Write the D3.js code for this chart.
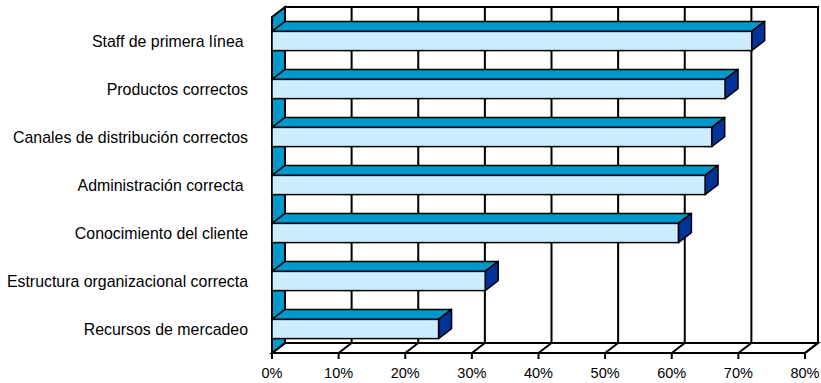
<!DOCTYPE html>
<html><head><meta charset="utf-8">
<script src="https://cdn.jsdelivr.net/npm/d3@7/dist/d3.min.js"></script>
<style>body{margin:0;background:#fff}svg{display:block}</style>
</head><body>
<svg id="c" width="821" height="383"></svg>
<script>
const categories = ["Staff de primera línea ","Productos correctos","Canales de distribución correctos","Administración correcta ","Conocimiento del cliente","Estructura organizacional correcta","Recursos de mercadeo"];
const values = [72,68,66,65,61,32,25];
const ticks = [0,10,20,30,40,50,60,70,80];
const tickLabels = ticks.map(t=>t+"%");

const svg = d3.select("#c");
const dx = 13, dy = 10;
const x = d3.scaleLinear().domain([0,80]).range([272,805]);
const yTop = 17, yBot = 353;
const y = d3.scaleBand().domain(categories).range([yTop,yBot]).paddingInner(0.6).paddingOuter(0.3);
const yCat = d3.scaleBand().domain(categories).range([yTop,yBot]);

const teal="#0099CC", light="#CCECFF", dark="#003399";
const sw=2;

// back wall
svg.append("rect").attr("x",x(0)+dx).attr("y",yTop-dy).attr("width",x(80)-x(0)).attr("height",yBot-yTop)
  .attr("fill","#fff").attr("stroke","#000").attr("stroke-width",sw);
// gridlines on back wall
svg.selectAll(".grid").data(ticks.slice(1,-1)).join("line")
  .attr("x1",d=>x(d)+dx).attr("x2",d=>x(d)+dx).attr("y1",yTop-dy).attr("y2",yBot-dy)
  .attr("stroke","#000").attr("stroke-width",sw);
// floor
const poly = pts => pts.map(p=>p.join(",")).join(" ");
svg.append("polygon").attr("points",poly([[x(0),yBot],[x(0)+dx,yBot-dy],[x(80)+dx,yBot-dy],[x(80),yBot]]))
  .attr("fill","#fff").attr("stroke","#000").attr("stroke-width",sw).attr("stroke-linejoin","miter");
svg.selectAll(".fl").data(ticks).join("line")
  .attr("x1",d=>x(d)).attr("y1",yBot).attr("x2",d=>x(d)+dx).attr("y2",yBot-dy)
  .attr("stroke","#000").attr("stroke-width",sw);
svg.selectAll(".tk").data(ticks).join("line")
  .attr("x1",d=>x(d)).attr("y1",yBot).attr("x2",d=>x(d)).attr("y2",yBot+6)
  .attr("stroke","#000").attr("stroke-width",sw);
// left wall
svg.append("polygon").attr("points",poly([[x(0),yTop],[x(0)+dx,yTop-dy],[x(0)+dx,yBot-dy],[x(0),yBot]]))
  .attr("fill",teal).attr("stroke","#000").attr("stroke-width",sw);

// bars
const g = svg.selectAll(".bar").data(categories).join("g");
g.append("polygon").attr("points",(d,i)=>{const y0=y(d),x1=x(values[i]);return poly([[x(0),y0],[x(0)+dx,y0-dy],[x1+dx,y0-dy],[x1,y0]]);})
  .attr("fill",teal).attr("stroke","#000").attr("stroke-width",1.5).attr("stroke-linejoin","round");
g.append("polygon").attr("points",(d,i)=>{const y0=y(d),y1=y0+y.bandwidth(),x1=x(values[i]);return poly([[x1,y0],[x1+dx,y0-dy],[x1+dx,y1-dy],[x1,y1]]);})
  .attr("fill",dark).attr("stroke","#000").attr("stroke-width",1.5).attr("stroke-linejoin","round");
g.append("rect").attr("x",x(0)).attr("y",d=>y(d)).attr("width",(d,i)=>x(values[i])-x(0)).attr("height",y.bandwidth())
  .attr("fill",light).attr("stroke","#000").attr("stroke-width",1.5);

// category labels
svg.selectAll(".cl").data(categories).join("text")
  .attr("x",248).attr("y",d=>yCat(d)+yCat.bandwidth()/2).attr("dy","0.4em")
  .attr("text-anchor","end").attr("font-family","Liberation Sans, Arial, sans-serif").attr("font-size",15.9)
  .attr("xml:space","preserve").style("white-space","pre")
  .text(d=>d);
// tick labels
svg.selectAll(".tl").data(ticks).join("text")
  .attr("x",d=>x(d)).attr("y",378).attr("text-anchor","middle")
  .attr("font-family","Liberation Sans, Arial, sans-serif").attr("font-size",14.5)
  .text((d,i)=>tickLabels[i]);
</script>
</body></html>
